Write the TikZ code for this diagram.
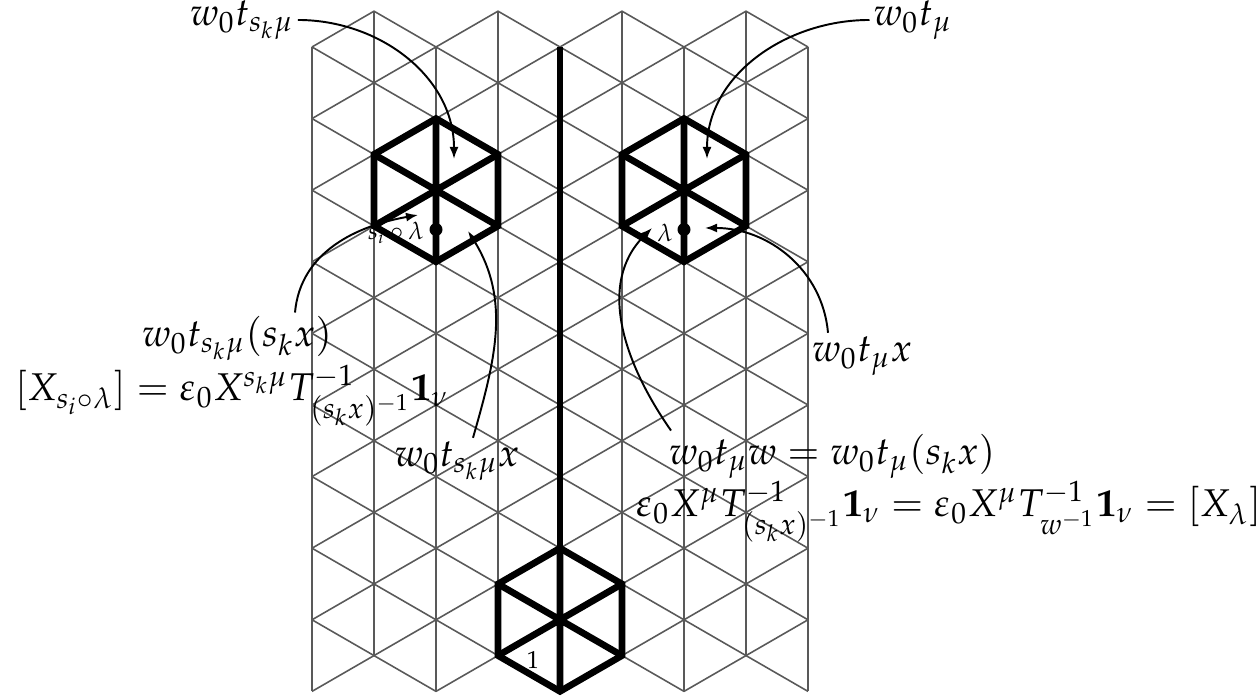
\documentclass[tikz,border=0pt]{standalone}
\usepackage{mathpazo}
\usetikzlibrary{arrows.meta,calc}

\begin{document}
\begin{tikzpicture}[
    grid/.style={black!65, line width=0.45pt},
    wall/.style={line width=1.9pt},
    arr/.style={-{Latex[length=1.2mm,width=0.9mm]}, line width=0.55pt},
    lbl/.style={font=\fontsize{11}{13}\selectfont, inner sep=1pt},
    small/.style={font=\fontsize{7}{8}\selectfont, inner sep=0pt},
    dot/.style={circle, fill=black, inner sep=0pt, minimum size=1.3mm}]
    \useasboundingbox (0,0) rectangle (12.59,6.97);
    % Lattice points: column \i, row \k (odd columns sit half a row higher)
    \foreach \i in {0,...,8}
      \foreach \k in {0,...,9}
        \coordinate (v-\i-\k) at ({3.12+0.62*\i}, {6.50-0.716*\k+0.358*mod(\i,2)});
    % Vertical lines
    \foreach \i in {0,...,8}
      \draw[grid] (v-\i-0) -- (v-\i-9);
    % Slanted lines, from every odd column to both neighbours
    \foreach \j in {1,3,5,7} {
      \pgfmathtruncatemacro\jl{\j-1}
      \pgfmathtruncatemacro\jr{\j+1}
      \foreach \k in {0,...,9}
        \draw[grid] (v-\jl-\k) -- (v-\j-\k) -- (v-\jr-\k);
      \foreach \k [evaluate=\k as \kk using int(\k-1)] in {1,...,9}
        \draw[grid] (v-\jl-\kk) -- (v-\j-\k) -- (v-\jr-\kk);
    }
    % Wall along the middle column
    \draw[wall] (v-4-0) -- (v-4-9);
    % Left hexagon (centre v-2-2)
    \draw[wall] (v-2-1) -- (v-3-2) -- (v-3-3) -- (v-2-3) -- (v-1-3) -- (v-1-2) -- cycle;
    \draw[wall] (v-2-1) -- (v-2-3) (v-1-2) -- (v-3-3) (v-3-2) -- (v-1-3);
    % Right hexagon (centre v-6-2)
    \draw[wall] (v-6-1) -- (v-7-2) -- (v-7-3) -- (v-6-3) -- (v-5-3) -- (v-5-2) -- cycle;
    \draw[wall] (v-6-1) -- (v-6-3) (v-5-2) -- (v-7-3) (v-7-2) -- (v-5-3);
    % Bottom hexagon (centre v-4-8)
    \draw[wall] (v-4-7) -- (v-5-8) -- (v-5-9) -- (v-4-9) -- (v-3-9) -- (v-3-8) -- cycle;
    \draw[wall] (v-4-7) -- (v-4-9) (v-3-8) -- (v-5-9) (v-5-8) -- (v-3-9);
    % Dots and alcove labels
    \node[dot] (ldot) at ($(v-2-2)!0.55!(v-2-3)$) {};
    \node[dot] (rdot) at ($(v-6-2)!0.55!(v-6-3)$) {};
    \node[small] (llam) at (3.96,4.64) {$s_i\circ\lambda$};
    \node[small] (rlam) at (6.65,4.64) {$\lambda$};
    \node[small] (one) at (5.33,0.37) {$1$};
    % Arrow tips
    \coordinate (ltip)  at (4.54,5.38);
    \coordinate (rtip)  at (7.07,5.38);
    \coordinate (lltip) at (4.18,4.82);
    \coordinate (lrtip) at (4.68,4.66);
    \coordinate (rltip) at (6.52,4.69);
    \coordinate (rrtip) at (7.05,4.69);
    % Labels
    \node[lbl] (tl) at (2.42,6.77) {$w_0t_{s_k\mu}$};
    \node[lbl] (tr) at (9.13,6.77) {$w_0t_\mu$};
    \node[lbl, anchor=base] (ml) at (2.37,3.50) {$w_0t_{s_k\mu}(s_kx)$};
    \node[lbl, anchor=base west] (eql) at (0.11,2.96)
      {$[X_{s_i\circ\lambda}]=\varepsilon_0X^{s_k\mu}T^{-1}_{(s_kx)^{-1}}\mathbf{1}_\nu$};
    \node[lbl, anchor=base] (bl) at (4.57,2.30) {$w_0t_{s_k\mu}x$};
    \node[lbl, anchor=base west] (rx) at (8.08,3.35) {$w_0t_\mu x$};
    \node[lbl, anchor=base west] (rw) at (6.65,2.32) {$w_0t_\mu w=w_0t_\mu(s_kx)$};
    \node[lbl, anchor=base west] (eqr) at (6.32,1.80)
      {$\varepsilon_0X^\mu T^{-1}_{(s_kx)^{-1}}\mathbf{1}_\nu=\varepsilon_0X^\mu T^{-1}_{w^{-1}}\mathbf{1}_\nu=[X_\lambda]$};
    % Arrows
    \draw[arr] (tl.east) to[out=0,in=90] (ltip);
    \draw[arr] (tr.west) to[out=180,in=90] (rtip);
    \draw[arr] ([xshift=5.8mm]ml.north) to[out=85,in=190] (lltip);
    \draw[arr] ([xshift=1.6mm]bl.north) to[out=74,in=-58] (lrtip);
    \draw[arr] ([xshift=0.6mm]rw.north west) to[out=125,in=-135] (rltip);
    \draw[arr] ([xshift=2mm]rx.north west) to[out=95,in=0] (rrtip);
\end{tikzpicture}
\end{document}
